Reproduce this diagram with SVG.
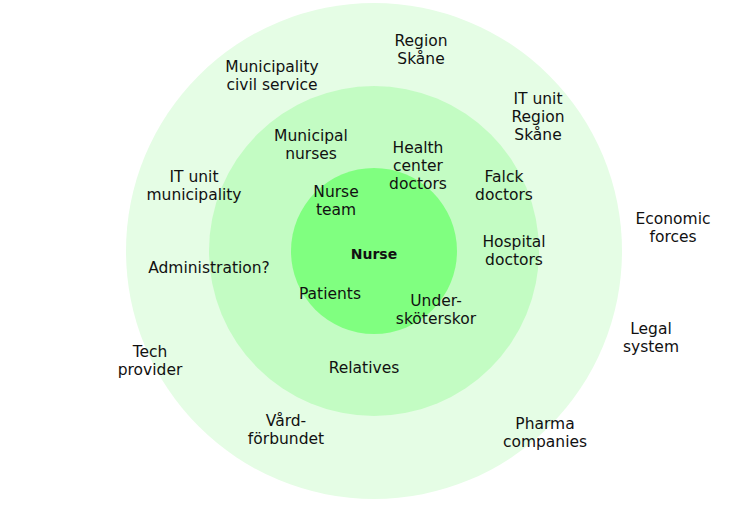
<svg xmlns="http://www.w3.org/2000/svg" width="750" height="505" viewBox="0 0 750 505">
<style>
text{font-family:"DejaVu Sans","Noto Sans",sans-serif;font-size:15.5px;fill:#111;text-anchor:middle}
.b{font-weight:bold;font-size:14px}
</style>
<rect width="750" height="505" fill="#fff"/>
<g id="rings">
<circle id="outer" cx="374" cy="251" r="248" fill="#e5fde5"/>
<circle id="middle" cx="374" cy="251" r="165" fill="#c3fcc3"/>
<circle id="inner" cx="374" cy="251" r="83" fill="#80ff80"/>
</g>
<g id="connectors"></g>
<g id="n-nurse"><text class="b" x="374" y="259">Nurse</text></g>
<g id="n-region"><text x="421" y="46">Region</text><text x="421" y="64">Skåne</text></g>
<g id="n-mcs"><text x="272" y="72">Municipality</text><text x="272" y="90">civil service</text></g>
<g id="n-itregion"><text x="538" y="104">IT unit</text><text x="538" y="122">Region</text><text x="538" y="140">Skåne</text></g>
<g id="n-mnurses"><text x="311" y="141">Municipal</text><text x="311" y="159">nurses</text></g>
<g id="n-hcd"><text x="418" y="153">Health</text><text x="418" y="171">center</text><text x="418" y="189">doctors</text></g>
<g id="n-falck"><text x="504" y="182">Falck</text><text x="504" y="200">doctors</text></g>
<g id="n-itmun"><text x="194" y="182">IT unit</text><text x="194" y="200">municipality</text></g>
<g id="n-team"><text x="336" y="197">Nurse</text><text x="336" y="215">team</text></g>
<g id="n-econ"><text x="673" y="224">Economic</text><text x="673" y="242">forces</text></g>
<g id="n-hosp"><text x="514" y="247">Hospital</text><text x="514" y="265">doctors</text></g>
<g id="n-admin"><text x="209" y="273">Administration?</text></g>
<g id="n-patients"><text x="330" y="299">Patients</text></g>
<g id="n-usk"><text x="436" y="306">Under-</text><text x="436" y="324">sköterskor</text></g>
<g id="n-legal"><text x="651" y="334">Legal</text><text x="651" y="352">system</text></g>
<g id="n-tech"><text x="150" y="357">Tech</text><text x="150" y="375">provider</text></g>
<g id="n-relatives"><text x="364" y="373">Relatives</text></g>
<g id="n-vard"><text x="286" y="426">Vård-</text><text x="286" y="444">förbundet</text></g>
<g id="n-pharma"><text x="545" y="429">Pharma</text><text x="545" y="447">companies</text></g>
</svg>
